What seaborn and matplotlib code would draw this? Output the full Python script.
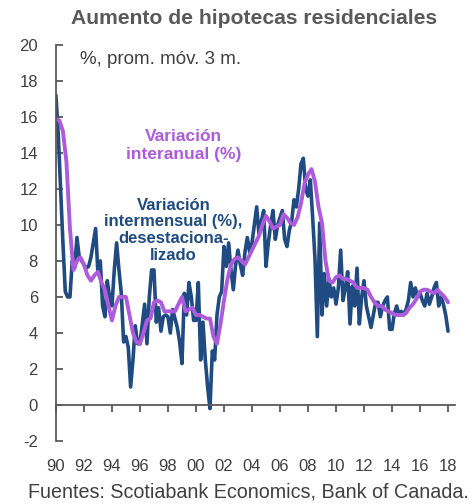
import numpy as np
import pandas as pd
import seaborn as sns
import matplotlib.pyplot as plt

# monthly change (sa), sampled every 2 months from Jan 1990
mom_values = [
    17.2, 15.0, 12.0, 9.0, 6.3, 6.0,      # 1990
    6.0, 8.0, 7.6, 9.3, 8.2, 8.0,         # 1991
    7.8, 7.6, 7.7, 8.2, 9.0, 9.8,         # 1992
    7.3, 8.0, 5.5, 4.9, 6.9, 6.0,         # 1993
    5.5, 7.5, 9.0, 7.5, 6.2, 3.5,         # 1994
    3.8, 3.2, 1.0, 2.5, 4.4, 3.4,         # 1995
    3.4, 4.5, 5.6, 3.4, 6.0, 7.5,         # 1996
    7.5, 4.6, 5.4, 4.1, 4.9, 5.0,         # 1997
    4.9, 4.0, 5.3, 4.8, 4.3, 3.5,         # 1998
    2.3, 6.2, 5.0, 6.8, 6.0, 4.7,         # 1999
    4.7, 6.8, 2.5, 4.6, 2.5, 1.0,         # 2000
    -0.2, 3.0, 2.5, 5.0, 6.0, 6.3,        # 2001
    8.8, 7.7, 9.0, 7.5, 6.4, 7.8,         # 2002
    8.6, 7.8, 7.2, 8.5, 9.3, 8.5,         # 2003
    9.0, 10.0, 11.0, 9.5, 10.2, 10.8,     # 2004
    7.7, 9.0, 10.0, 10.8, 9.2, 10.0,      # 2005
    10.4, 10.8, 9.2, 8.8, 9.7, 10.2,      # 2006
    11.4, 11.0, 12.0, 13.4, 13.7, 12.0,   # 2007
    11.6, 12.5, 10.4, 8.1, 3.8, 10.1,     # 2008
    5.0, 7.3, 5.5, 7.0, 6.0, 6.5,         # 2009
    5.6, 6.5, 8.6, 5.8, 6.5, 7.4,         # 2010
    4.5, 6.6, 5.5, 7.6, 4.5, 6.0,         # 2011
    6.9, 5.5, 4.9, 4.3, 5.0, 5.7,         # 2012
    5.7, 4.9, 5.5, 5.8, 6.0, 4.2,         # 2013
    4.2, 5.1, 5.5, 5.0, 5.2, 5.0,         # 2014
    5.3, 5.8, 6.8, 6.0, 6.5, 6.0,         # 2015
    6.2, 5.8, 5.5, 6.2, 5.6, 6.0,         # 2016
    6.5, 6.8, 5.5, 6.0, 5.6, 5.0,         # 2017
    4.1,                                  # 2018
]

# year-over-year change, quarterly from Q1 1990
yoy_values = [
    15.9, 15.8, 15.2, 13.5,
    9.8, 7.5, 8.0, 8.2,
    7.8, 7.2, 6.9, 7.2,
    7.4, 6.8, 6.4, 5.5,
    4.7, 5.5, 6.0, 6.0,
    6.0, 5.0, 4.0, 3.5,
    3.4, 4.0, 4.7, 4.8,
    5.7, 5.8, 5.7, 5.2,
    5.2, 5.2, 5.2, 5.6,
    6.0, 5.2, 5.3, 5.4,
    5.0, 5.0, 4.9, 4.8,
    4.8, 3.8, 3.4, 4.5,
    5.8, 7.0, 7.8, 8.1,
    8.2, 8.0, 7.8, 8.2,
    8.6, 9.0, 9.4, 10.0,
    10.5, 10.2, 9.8, 9.9,
    10.0, 10.6, 10.4, 10.1,
    10.0, 10.4, 11.2, 12.3,
    12.8, 13.1, 12.4, 11.0,
    10.1, 8.0, 6.9, 6.8,
    7.1, 7.2, 7.0, 7.0,
    6.9, 6.8, 6.5, 6.5,
    6.5, 6.4, 6.0, 5.7,
    5.5, 5.5, 5.3, 5.2,
    5.1, 5.0, 5.0, 5.0,
    5.1, 5.4, 5.6, 5.9,
    6.3, 6.4, 6.4, 6.3,
    6.2, 6.4, 6.2, 6.0,
    5.7,
]

tick_years = list(range(1990, 2019, 2))
tick_labels = [f"{y % 100:02d}" for y in tick_years]

BLUE = "#1F4B82"
PURPLE = "#AD5BDC"
GREY = "#595959"

mom = pd.DataFrame({"year": 1990 + np.arange(len(mom_values)) / 6, "value": mom_values})
yoy = pd.DataFrame({"year": 1990 + np.arange(len(yoy_values)) / 4, "value": yoy_values})

sns.set_style("white")
plt.rcParams["font.family"] = ["Liberation Sans", "DejaVu Sans"]
plt.rcParams["axes.unicode_minus"] = False

fig = plt.figure(figsize=(4.74, 5.04), dpi=100)
ax = fig.add_axes([0.118, 0.125, 0.842, 0.786])

sns.lineplot(data=mom, x="year", y="value", color=BLUE, linewidth=2.6, ax=ax)
sns.lineplot(data=yoy, x="year", y="value", color=PURPLE, linewidth=2.8, ax=ax)

ax.set_xlim(1990, 2018.5)
ax.set_ylim(-2, 20)
ax.set_yticks(range(-2, 21, 2))
ax.set_xticks(tick_years)
ax.set_xticklabels(tick_labels)
ax.set_xlabel("")
ax.set_ylabel("")

for s in ["top", "right"]:
    ax.spines[s].set_visible(False)
ax.spines["bottom"].set_position(("data", 0))
for s in ["left", "bottom"]:
    ax.spines[s].set_color(GREY)
    ax.spines[s].set_linewidth(1.3)

ax.tick_params(axis="y", direction="in", length=5, width=1.3, color=GREY,
               labelsize=12, labelcolor="#404040", pad=13, left=True)
ax.tick_params(axis="x", direction="out", length=5, width=1.3, color=GREY,
               labelsize=12, labelcolor="#404040", pad=34, bottom=True)

ax.text(0.06, 0.962, "%, prom. móv. 3 m.", transform=ax.transAxes,
        fontsize=13.5, color="#404040", va="center", ha="left")
ax.text(1999.1, 14.4, "Variación\ninteranual (%)", color=PURPLE, fontsize=12.5,
        fontweight="bold", ha="center", va="center", multialignment="center")
ax.text(1998.4, 9.7, "Variación\nintermensual (%),\ndesestaciona-\nlizado", color=BLUE,
        fontsize=12, fontweight="bold", ha="center", va="center",
        multialignment="center", linespacing=1.15)

fig.text(0.535, 1 - 19 / 504, "Aumento de hipotecas residenciales", ha="center",
         va="center", fontsize=15.2, fontweight="bold", color=GREY)
fig.text(0.525, 1 - 492 / 504, "Fuentes: Scotiabank Economics, Bank of Canada.",
         ha="center", va="center", fontsize=14.2, color="#404040")

fig.savefig("out.png", dpi=100)
